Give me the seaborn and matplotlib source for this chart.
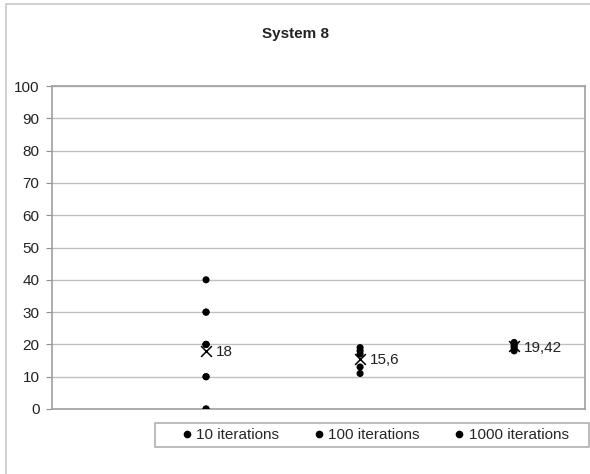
"""System 8 — résultats par nombre d'itérations (points + moyenne)."""

import matplotlib
matplotlib.use("Agg")
import matplotlib.pyplot as plt
from matplotlib.lines import Line2D
from matplotlib.patches import Rectangle
import pandas as pd
import seaborn as sns

# --- données ---
groups = ["10 iterations", "100 iterations", "1000 iterations"]
values_10 = [0, 0, 10, 10, 20, 20, 20, 30, 30, 40]
values_100 = [11, 13, 17, 18, 19]
values_1000 = [18, 19, 19.5, 20, 20.6]
means = [18, 15.6, 19.42]
mean_labels = ["18", "15,6", "19,42"]
y_ticks = list(range(0, 101, 10))

sns.set_theme(style="white")
plt.rcParams["font.family"] = ["Liberation Sans", "DejaVu Sans"]

rows = []
for i, (g, vals) in enumerate(zip(groups, [values_10, values_100, values_1000])):
    for v in vals:
        rows.append({"group": g, "pos": i + 1, "value": v})
df = pd.DataFrame(rows)
mean_df = pd.DataFrame({"group": groups, "pos": range(1, len(groups) + 1), "mean": means})

W, H = 590, 474
fig = plt.figure(figsize=(W / 100, H / 100), dpi=100)
ax = fig.add_axes([52 / W, 1 - 409 / H, 533 / W, 323 / H])

# cadre extérieur du graphique
fig.patches.append(Rectangle((6 / W, -0.05), 1.2, 1 - 4 / H + 0.05,
                             transform=fig.transFigure, fill=False,
                             edgecolor="#c8c8c8", lw=1.2, zorder=0))
# cadre de la légende
fig.patches.append(Rectangle((155 / W, 1 - 447 / H), 434 / W, 24 / H,
                             transform=fig.transFigure, fill=False,
                             edgecolor="#b0b0b0", lw=1.2, zorder=0))

sns.scatterplot(data=df, x="pos", y="value", hue="group",
                palette=["black"] * 3, s=26, edgecolor="none",
                legend=False, ax=ax, zorder=3)
sns.scatterplot(data=mean_df, x="pos", y="mean", marker="x", color="black",
                s=60, linewidth=1.1, legend=False, ax=ax, zorder=4)

for x, m, lab in zip(mean_df["pos"], mean_df["mean"], mean_labels):
    ax.annotate(lab, (x, m), xytext=(7, -1), textcoords="offset points",
                va="center", ha="left", fontsize=11, color="#222222")

ax.set_xlim(0, 3.46)
ax.set_ylim(0, 100)
ax.set_yticks(y_ticks)
ax.set_xticks([])
ax.set_xlabel("")
ax.set_ylabel("")
ax.tick_params(axis="y", labelsize=11, length=4, width=0.8, color="#909090",
               left=True, pad=5, labelcolor="#222222")
ax.grid(axis="y", color="#c0c0c0", lw=1)
ax.set_axisbelow(True)
for side in ax.spines.values():
    side.set_color("#a0a0a0")
    side.set_linewidth(1.2)

fig.text(296 / W, 1 - 34 / H, "System 8", ha="center", va="center",
         fontsize=11, fontweight="bold", color="#222222")

handles = [Line2D([], [], ls="none", marker="o", color="black", markersize=4.5)
           for _ in groups]
fig.legend(handles, groups, loc="center", ncol=3,
           bbox_to_anchor=(374 / W, 1 - 435 / H),
           frameon=False, fontsize=11,
           handletextpad=0.1, columnspacing=2.1, borderpad=0.3,
           handlelength=1.0)

fig.savefig("out.png", dpi=100)
